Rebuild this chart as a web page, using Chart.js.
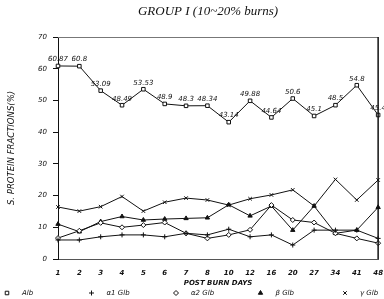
<!DOCTYPE html>
<html>
<head>
<meta charset="utf-8">
<script src="https://cdn.jsdelivr.net/npm/chart.js@4.4.0/dist/chart.umd.min.js"></script>
<style>
  html, body { margin: 0; padding: 0; background: #fff; }
</style>
</head>
<body>
<canvas id="lineChart" width="384" height="299"></canvas>
<script>
// post burn days (category axis)
const days = ['1', '2', '3', '4', '5', '6', '7', '8', '10', '12', '16', '20', '27', '34', '41', '48'];
// serum protein fractions in %
const alb    = [60.87, 60.8, 53.09, 48.49, 53.53, 48.9, 48.3, 48.34, 43.14, 49.88, 44.64, 50.6, 45.1, 48.5, 54.8, 45.4];
const alpha1 = [6.0, 6.0, 7.0, 7.6, 7.6, 7.0, 8.1, 7.6, 9.4, 7.0, 7.6, 4.4, 9.1, 9.1, 9.1, 6.5];
const alpha2 = [6.6, 8.9, 11.4, 10.0, 10.7, 11.5, 8.1, 6.5, 7.6, 9.2, 17.0, 12.3, 11.5, 8.1, 6.5, 5.0];
const beta   = [11.0, 8.6, 11.8, 13.4, 12.3, 12.6, 12.8, 13.0, 17.1, 13.6, 16.7, 9.1, 16.7, 8.1, 9.1, 16.3];
const gamma  = [16.4, 15.1, 16.5, 19.7, 15.1, 17.9, 19.2, 18.6, 17.0, 19.0, 20.2, 21.8, 16.7, 25.1, 18.6, 24.9];
const seriesNames = ['Alb', 'α1 Glb', 'α2 Glb', 'β Glb', 'γ Glb'];
const yTicks = [0, 10, 20, 30, 40, 50, 60, 70];
const chartTitle = 'GROUP I (10~20% burns)';

const ink = '#111';
const tickFont = { family: 'DejaVu Sans', size: 7, style: 'italic' };

// numbers printed over the albumin points
const albLabels = {
    id: 'albLabels',
    afterDatasetsDraw(chart) {
        const meta = chart.getDatasetMeta(0);
        const ctx = chart.ctx;
        ctx.save();
        ctx.font = 'italic 7px "DejaVu Sans"';
        ctx.fillStyle = ink;
        ctx.textAlign = 'center';
        ctx.textBaseline = 'bottom';
        meta.data.forEach((pt, i) => {
            ctx.fillText(String(alb[i]), pt.x, pt.y - 3);
        });
        ctx.restore();
    }
};

// title, plus top and right border of the plot box
const frame = {
    id: 'frame',
    afterDraw(chart) {
        const a = chart.chartArea;
        const ctx = chart.ctx;
        ctx.save();
        ctx.strokeStyle = '#777';
        ctx.lineWidth = 1;
        ctx.beginPath();
        ctx.moveTo(a.left, a.top + 0.5);
        ctx.lineTo(a.right, a.top + 0.5);
        ctx.stroke();
        ctx.strokeStyle = ink;
        ctx.lineWidth = 1.5;
        ctx.beginPath();
        ctx.moveTo(a.right, a.top);
        ctx.lineTo(a.right, a.bottom);
        ctx.stroke();

        ctx.font = 'italic 13px "Liberation Serif"';
        ctx.fillStyle = ink;
        ctx.textAlign = 'center';
        ctx.textBaseline = 'middle';
        ctx.fillText(chartTitle, (a.left + a.right) / 2 - 10, 12);
        ctx.restore();
    }
};

// wide spaced legend row along the bottom
const bottomLegend = {
    id: 'bottomLegend',
    afterDraw(chart) {
        const ctx = chart.ctx;
        const y = chart.height - 6;
        ctx.save();
        ctx.font = 'italic 7px "DejaVu Sans"';
        ctx.textBaseline = 'middle';
        chart.data.datasets.forEach((ds, i) => {
            const x = 7 + i * 84.5;
            ctx.strokeStyle = ink;
            ctx.fillStyle = ds.pointBackgroundColor;
            ctx.lineWidth = 1;
            Chart.helpers.drawPoint(ctx, { pointStyle: ds.pointStyle, radius: 2.5, rotation: 0, borderWidth: 1 }, x, y);
            ctx.fillStyle = ink;
            ctx.fillText(ds.label, x + 15, y);
        });
        ctx.restore();
    }
};

function series(label, data, style, fill) {
    return {
        label: label,
        data: data,
        borderColor: ink,
        borderWidth: 1,
        pointStyle: style,
        pointRadius: 2.5,
        pointBorderColor: ink,
        pointBackgroundColor: fill,
        pointBorderWidth: 1,
        fill: false,
        tension: 0
    };
}

new Chart(document.getElementById('lineChart'), {
    type: 'line',
    data: {
        labels: days,
        datasets: [
            series(seriesNames[0], alb, 'rect', '#fff'),
            series(seriesNames[1], alpha1, 'cross', '#fff'),
            series(seriesNames[2], alpha2, 'rectRot', '#fff'),
            series(seriesNames[3], beta, 'triangle', ink),
            series(seriesNames[4], gamma, 'crossRot', '#fff')
        ]
    },
    options: {
        responsive: false,
        animation: false,
        layout: { padding: { left: 0, right: 0, top: 37, bottom: 11 } },
        plugins: {
            legend: { display: false },
            tooltip: { enabled: false },
            title: { display: false }
        },
        scales: {
            x: {
                offset: false,
                afterFit: (scale) => { scale.height = 29; },
                grid: { display: false, drawTicks: true, tickLength: 9 },
                border: { display: true, color: '#555', width: 1 },
                ticks: {
                    color: ink,
                    font: { family: 'DejaVu Sans', size: 7, style: 'italic', weight: 'bold' },
                    padding: 1,
                    autoSkip: false,
                    maxRotation: 0
                },
                title: {
                    display: true,
                    text: 'POST BURN DAYS',
                    color: ink,
                    font: { family: 'DejaVu Sans', size: 7, style: 'italic', weight: 'bold' },
                    padding: { top: 2, bottom: 1 }
                }
            },
            y: {
                min: 0,
                max: 70,
                afterBuildTicks: (scale) => { scale.ticks = yTicks.map(v => ({ value: v })); },
                afterFit: (scale) => { scale.width = 58; },
                grid: { drawOnChartArea: false, drawTicks: true, tickLength: 5, color: ink },
                border: { display: true, color: ink, width: 1 },
                ticks: { color: ink, font: tickFont, padding: 6 },
                title: {
                    display: true,
                    text: 'S. PROTEIN FRACTIONS(%)',
                    color: ink,
                    font: { family: 'DejaVu Sans', size: 8.5, style: 'italic' },
                    padding: { top: 7, bottom: 0 }
                }
            }
        }
    },
    plugins: [albLabels, frame, bottomLegend]
});
</script>
</body>
</html>
